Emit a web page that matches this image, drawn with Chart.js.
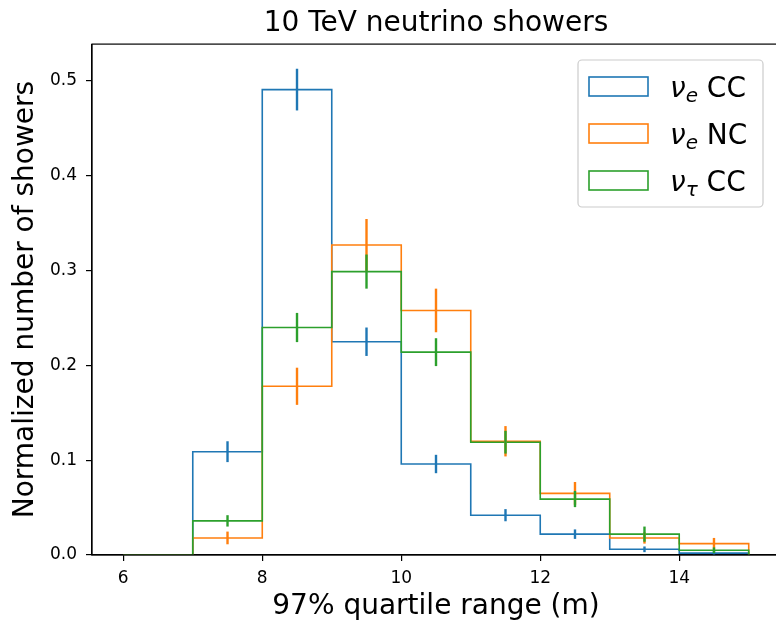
<!DOCTYPE html>
<html>
<head>
<meta charset="utf-8">
<script src="https://cdn.jsdelivr.net/npm/chart.js@4.4.0/dist/chart.umd.min.js"></script>
<style>
  html, body { margin: 0; padding: 0; background: #fff; overflow: hidden; }
  #wrap { width: 786px; height: 623px; }
</style>
</head>
<body>
<div id="wrap"><canvas id="showerChart" width="786" height="623"></canvas></div>
<script>
/* =========================
   DATA
========================= */

const binEdges = [6, 7, 8, 9, 10, 11, 12, 13, 14, 15];
const seriesNames = ["ν_e CC", "ν_e NC", "ν_τ CC"];
const seriesColors = ["#1f77b4", "#ff7f0e", "#2ca02c"];

// normalized counts per bin
const nueCC   = [0, 0.109, 0.491, 0.225, 0.096, 0.042, 0.022, 0.006, 0.002];
const nueNC   = [0, 0.018, 0.178, 0.327, 0.258, 0.120, 0.065, 0.018, 0.012];
const nutauCC = [0, 0.036, 0.240, 0.299, 0.214, 0.119, 0.059, 0.022, 0.005];

// statistical errors per bin
const nueCCErr   = [0, 0.011, 0.022, 0.015, 0.0097, 0.0064, 0.005, 0.003, 0.002];
const nueNCErr   = [0, 0.0067, 0.0196, 0.0275, 0.023, 0.016, 0.012, 0.006, 0.006];
const nutauCCErr = [0, 0.006, 0.0154, 0.018, 0.0147, 0.012, 0.0085, 0.008, 0.003];

const xTicks = [6, 8, 10, 12, 14];
const yTicks = [0, 0.1, 0.2, 0.3, 0.4, 0.5];

const FONT = '"DejaVu Sans", sans-serif';


/* =========================
   HELPERS
========================= */

// outline points for a step histogram (value holds until the next edge)
function stepPoints(values) {
    const pts = values.map((v, i) => ({ x: binEdges[i], y: v }));
    pts.push({ x: binEdges[binEdges.length - 1], y: 0 });
    return pts;
}

function binCenters() {
    return binEdges.slice(0, -1).map((e, i) => (e + binEdges[i + 1]) / 2);
}

// draws "ν_e CC" style labels with an italic symbol and subscript
function drawMathLabel(ctx, label, x, y, size) {
    const parts = label.split(" ");
    const [sym, sub] = parts[0].split("_");
    ctx.font = `italic ${size}px ${FONT}`;
    ctx.fillText(sym, x, y);
    x += ctx.measureText(sym).width;
    ctx.font = `italic ${Math.round(size * 0.7)}px ${FONT}`;
    ctx.fillText(sub, x, y + size * 0.2);
    x += ctx.measureText(sub).width;
    ctx.font = `${size}px ${FONT}`;
    ctx.fillText(" " + parts.slice(1).join(" "), x, y);
}


/* =========================
   PLUGINS
========================= */

const errorBars = {
    id: "errorBars",
    afterDatasetsDraw(chart) {
        const { ctx, scales: { x, y } } = chart;
        const centers = binCenters();
        ctx.save();
        ctx.lineWidth = 2.4;
        chart.data.datasets.forEach(ds => {
            ctx.strokeStyle = ds.borderColor;
            ds.errors.forEach((e, i) => {
                if (!e) return;
                const v = ds.values[i];
                const px = x.getPixelForValue(centers[i]);
                ctx.beginPath();
                ctx.moveTo(px, y.getPixelForValue(v - e));
                ctx.lineTo(px, y.getPixelForValue(v + e));
                ctx.stroke();
            });
        });
        ctx.restore();
    }
};

const axesFrame = {
    id: "axesFrame",
    afterDatasetsDraw(chart) {
        const { ctx, chartArea: a } = chart;
        ctx.save();
        ctx.strokeStyle = "#000";
        ctx.lineWidth = 1.2;
        ctx.strokeRect(a.left, a.top, a.right - a.left, a.bottom - a.top);
        ctx.restore();
    }
};

const histLegend = {
    id: "histLegend",
    afterDraw(chart) {
        const { ctx } = chart;
        const box = { x: 578, y: 60, w: 185, h: 147 };
        ctx.save();
        ctx.fillStyle = "rgba(255,255,255,0.8)";
        ctx.strokeStyle = "#cccccc";
        ctx.lineWidth = 1.2;
        ctx.beginPath();
        ctx.roundRect(box.x, box.y, box.w, box.h, 4);
        ctx.fill();
        ctx.stroke();

        chart.data.datasets.forEach((ds, i) => {
            const cy = 86.5 + i * 47;
            ctx.strokeStyle = ds.borderColor;
            ctx.lineWidth = 1.6;
            ctx.strokeRect(589, cy - 9.5, 59, 19);
            ctx.fillStyle = "#000";
            ctx.textBaseline = "alphabetic";
            ctx.textAlign = "left";
            drawMathLabel(ctx, ds.label, 670, cy + 10, 28);
        });
        ctx.restore();
    }
};


/* =========================
   CHART
========================= */

function renderShowerChart() {
    const ctx = document.getElementById("showerChart");
    if (!ctx || typeof Chart === "undefined") return;

    const series = [
        { values: nueCC, errors: nueCCErr },
        { values: nueNC, errors: nueNCErr },
        { values: nutauCC, errors: nutauCCErr }
    ];

    new Chart(ctx, {
        type: "line",
        data: {
            datasets: series.map((s, i) => ({
                label: seriesNames[i],
                data: stepPoints(s.values),
                values: s.values,
                errors: s.errors,
                borderColor: seriesColors[i],
                borderWidth: 1.6,
                stepped: "before",
                pointRadius: 0,
                fill: false,
                order: series.length - i
            }))
        },
        options: {
            responsive: false,
            animation: false,
            devicePixelRatio: 1,
            layout: { padding: { left: 0, right: 6, top: 0, bottom: 0 } },
            plugins: {
                legend: { display: false },
                tooltip: { enabled: false },
                title: {
                    display: true,
                    text: "10 TeV neutrino showers",
                    fullSize: false,
                    color: "#000",
                    font: { family: FONT, size: 28, weight: "normal" },
                    padding: { top: 6.5, bottom: 4 }
                }
            },
            scales: {
                x: {
                    type: "linear",
                    min: 5.55,
                    max: 15.45,
                    afterFit: s => { s.height = 68; },
                    afterBuildTicks: s => { s.ticks = xTicks.map(v => ({ value: v })); },
                    grid: { drawOnChartArea: false, drawTicks: true, tickLength: 6, color: "#000", lineWidth: 1.2 },
                    border: { display: true, color: "#000", width: 1.2 },
                    ticks: {
                        color: "#000",
                        padding: 7,
                        maxRotation: 0,
                        font: { family: FONT, size: 17 },
                        callback: v => String(v)
                    },
                    title: {
                        display: true,
                        text: "97% quartile range (m)",
                        color: "#000",
                        font: { family: FONT, size: 28 },
                        padding: { top: 0, bottom: -1 }
                    }
                },
                y: {
                    min: 0,
                    max: 0.539,
                    afterFit: s => { s.width = 92; },
                    afterBuildTicks: s => { s.ticks = yTicks.map(v => ({ value: v })); },
                    grid: { drawOnChartArea: false, drawTicks: true, tickLength: 6, color: "#000", lineWidth: 1.2 },
                    border: { display: true, color: "#000", width: 1.2 },
                    ticks: {
                        color: "#000",
                        padding: 9,
                        font: { family: FONT, size: 17 },
                        callback: v => v.toFixed(1)
                    },
                    title: {
                        display: true,
                        text: "Normalized number of showers",
                        color: "#000",
                        font: { family: FONT, size: 28 },
                        padding: { top: 9, bottom: 0 }
                    }
                }
            }
        },
        plugins: [errorBars, axesFrame, histLegend]
    });
}

document.addEventListener("DOMContentLoaded", renderShowerChart);
</script>
</body>
</html>
